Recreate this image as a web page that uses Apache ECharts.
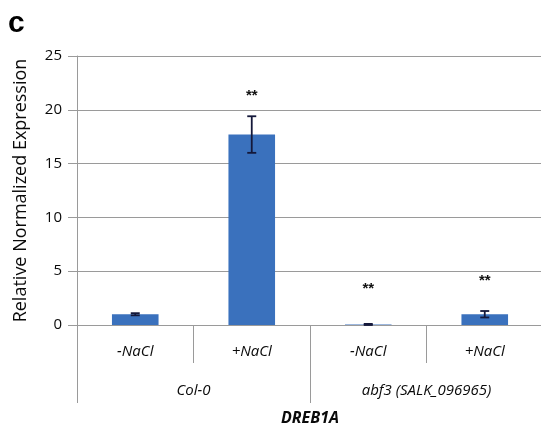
<!DOCTYPE html>
<html>
<head>
<meta charset="utf-8">
<script src="https://cdn.jsdelivr.net/npm/echarts@6/dist/echarts.min.js"></script>
<style>
  html, body { margin: 0; padding: 0; background: #fff; }
  #chart { width: 541px; height: 431px; }
</style>
</head>
<body>
<div id="chart"></div>
<script>
// DREB1A expression under salt treatment, Col-0 vs abf3 mutant
const treatments = ['-NaCl', '+NaCl', '-NaCl', '+NaCl'];
const genotypes = ['Col-0', 'abf3 (SALK_096965)'];
const expression = [1.0, 17.7, 0.05, 1.0];
const errors = [0.1, 1.7, 0.05, 0.3];
const significance = ['', '**', '**', '**'];
const markLevel = [null, 21.3, 3.4, 4.1];
const yTicks = [0, 5, 10, 15, 20, 25];

const FONT = '"Open Sans", "Liberation Sans", sans-serif';
const GRAY = '#9a9a9a';
const BAR = '#3a71bd';
const TEXT = '#0a0a0a';

const chart = echarts.init(document.getElementById('chart'), null, { renderer: 'canvas' });

const errData = treatments.map((t, i) => [i, expression[i], errors[i]]);
const markData = treatments
  .map((t, i) => [i, markLevel[i], significance[i]])
  .filter(d => d[2]);

chart.setOption({
  animation: false,
  backgroundColor: '#fff',
  graphic: [{
    type: 'text',
    left: 8,
    top: 9,
    style: { text: 'c', font: 'bold 30px "Liberation Sans", Arial, sans-serif', fill: '#000' }
  }],
  grid: { left: 77, top: 56, width: 466, height: 269, outerBoundsMode: 'none', containLabel: false },
  xAxis: [{
    type: 'category',
    data: treatments,
    axisLine: { lineStyle: { color: GRAY, width: 1 } },
    axisTick: { show: true, length: 38, lineStyle: { color: GRAY } },
    axisLabel: { margin: 19, fontFamily: FONT, fontStyle: 'italic', fontSize: 15, color: TEXT }
  }, {
    type: 'category',
    data: genotypes,
    position: 'bottom',
    axisLine: { show: false },
    axisTick: { show: true, length: 78, lineStyle: { color: GRAY } },
    axisLabel: { margin: 58, fontFamily: FONT, fontStyle: 'italic', fontSize: 15, color: TEXT },
    name: 'DREB1A',
    nameLocation: 'middle',
    nameGap: 85,
    nameTextStyle: { fontFamily: FONT, fontStyle: 'italic', fontWeight: 'bold', fontSize: 16, color: TEXT }
  }],
  yAxis: {
    type: 'value',
    min: yTicks[0],
    max: yTicks[yTicks.length - 1],
    interval: 5,
    name: 'Relative Normalized Expression',
    nameLocation: 'middle',
    nameGap: 47,
    nameTextStyle: { fontFamily: FONT, fontSize: 18, color: TEXT },
    axisLine: { show: true, lineStyle: { color: GRAY } },
    axisTick: { show: true, length: 9, lineStyle: { color: GRAY } },
    axisLabel: { margin: 15, fontFamily: FONT, fontSize: 15, color: TEXT },
    splitLine: { lineStyle: { color: GRAY, width: 1 } }
  },
  series: [{
    type: 'bar',
    data: expression,
    barCategoryGap: '60%',
    itemStyle: { color: BAR },
    z: 2
  }, {
    type: 'custom',
    data: errData,
    z: 3,
    renderItem: function (params, api) {
      const i = api.value(0);
      const v = api.value(1);
      const e = api.value(2);
      const top = api.coord([i, v + e]);
      const bot = api.coord([i, v - e]);
      const half = 4.5;
      const style = { stroke: '#14183a', lineWidth: 1.8 };
      return {
        type: 'group',
        children: [
          { type: 'line', shape: { x1: top[0], y1: top[1], x2: bot[0], y2: bot[1] }, style: style },
          { type: 'line', shape: { x1: top[0] - half, y1: top[1], x2: top[0] + half, y2: top[1] }, style: style },
          { type: 'line', shape: { x1: bot[0] - half, y1: bot[1], x2: bot[0] + half, y2: bot[1] }, style: style }
        ]
      };
    }
  }, {
    type: 'custom',
    data: markData,
    z: 4,
    renderItem: function (params, api) {
      const p = api.coord([api.value(0), api.value(1)]);
      return {
        type: 'text',
        x: p[0],
        y: p[1],
        style: {
          text: markData[params.dataIndex][2],
          align: 'center',
          verticalAlign: 'middle',
          font: 'bold 15px "Liberation Sans", Arial, sans-serif',
          fill: '#111'
        }
      };
    }
  }]
});
</script>
</body>
</html>
